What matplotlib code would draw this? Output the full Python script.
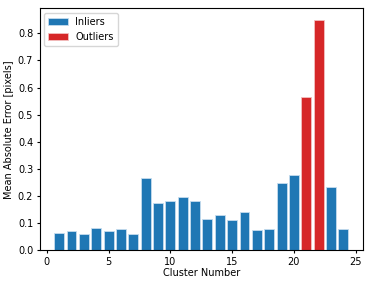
import matplotlib
matplotlib.use("Agg")
import matplotlib.pyplot as plt

clusters = list(range(1, 25))
mae = [0.065, 0.070, 0.060, 0.082, 0.072, 0.080, 0.060, 0.267, 0.175, 0.180,
       0.196, 0.183, 0.115, 0.130, 0.111, 0.143, 0.076, 0.079, 0.248, 0.279,
       0.565, 0.850, 0.235, 0.078]
outlier_clusters = [21, 22]

plt.rcParams['font.size'] = 7
fig = plt.figure(figsize=(3.73, 2.85), dpi=100)
ax = fig.add_axes([39.5/373, 1 - 250.3/285, 323.5/373, 242/285])

in_x = [c for c in clusters if c not in outlier_clusters]
in_y = [v for c, v in zip(clusters, mae) if c not in outlier_clusters]
out_x = [c for c in clusters if c in outlier_clusters]
out_y = [v for c, v in zip(clusters, mae) if c in outlier_clusters]

ax.bar(in_x, in_y, color='#1f77b4', edgecolor='#c5dcee', linewidth=0.6, label='Inliers')
ax.bar(out_x, out_y, color='#d62728', edgecolor='#f3c0c0', linewidth=0.6, label='Outliers')
ax.set_xlabel('Cluster Number', labelpad=1)
ax.set_ylabel('Mean Absolute Error [pixels]', labelpad=3)
ax.set_xticks([0, 5, 10, 15, 20, 25])
ax.set_yticks([0.0, 0.1, 0.2, 0.3, 0.4, 0.5, 0.6, 0.7, 0.8])
ax.tick_params(length=2.5, pad=2)
ax.legend(loc='upper left')
fig.savefig('out.png', dpi=100)
